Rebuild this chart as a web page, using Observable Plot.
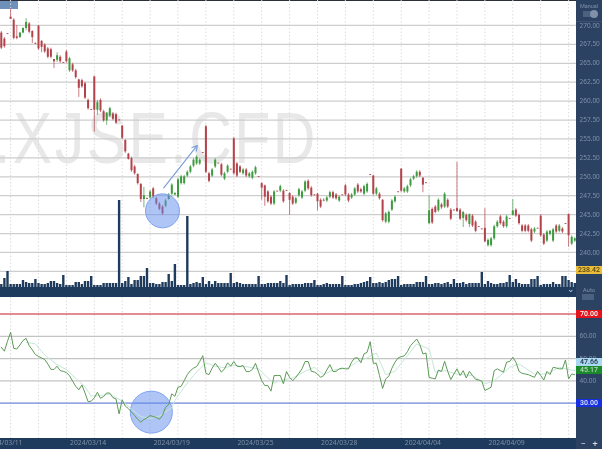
<!DOCTYPE html>
<html><head><meta charset="utf-8">
<script src="https://cdn.jsdelivr.net/npm/d3@7"></script>
<script src="https://cdn.jsdelivr.net/npm/@observablehq/plot@0.6"></script>
<style>
html,body{margin:0;padding:0;background:#fff;overflow:hidden}
#wrap{position:relative;width:602px;height:449px;overflow:hidden;font-family:Roboto,sans-serif;filter:blur(.45px)}
#wrap>div{position:absolute}
#wrap>div.pane{left:0}
.tag{font-size:7px;line-height:8px;height:8px;text-align:center;left:576px;width:26px;font-weight:500}
.faint{color:#7f90a8;font-size:6.5px;line-height:8px;text-align:center}
</style></head><body>
<div id="wrap"></div>
<script>
const highs=[269.2,268.4,268.9,272.2,270.9,270.0,269.1,269.7,270.9,270.4,269.3,267.7,270.0,268.0,267.6,267.1,267.0,265.5,266.4,266.0,265.1,266.7,265.8,265.0,264.2,262.9,262.9,262.5,260.3,258.9,263.3,260.1,260.3,258.8,258.5,259.2,258.5,258.4,257.5,256.8,254.9,253.1,252.6,251.5,250.4,249.1,248.6,247.2,248.2,248.6,247.3,246.6,246.2,247.0,247.8,249.1,247.9,249.8,250.2,250.2,250.8,251.5,252.4,252.8,252.4,253.2,256.8,250.6,251.1,252.4,251.8,251.8,250.6,251.6,251.0,255.2,251.9,251.5,251.1,251.1,250.6,250.8,251.4,250.0,249.2,248.9,248.2,247.5,248.2,248.1,248.9,248.3,248.2,247.9,247.5,247.3,248.5,248.2,249.5,249.6,248.7,247.6,247.8,247.1,247.1,247.4,248.1,248.1,247.8,247.5,247.6,249.0,247.8,247.8,248.6,249.1,248.5,248.9,249.2,250.3,250.2,248.6,247.9,247.0,245.3,245.5,247.0,247.5,248.0,251.1,248.6,248.9,249.8,250.2,250.8,250.8,249.9,249.2,247.5,245.9,246.2,247.1,246.5,247.9,247.1,245.8,245.6,251.9,245.8,245.4,245.1,245.1,245.0,244.2,243.4,243.1,245.8,241.8,242.0,243.6,244.2,244.9,244.2,244.9,244.5,247.0,245.8,245.1,243.7,243.7,243.7,243.2,243.3,243.2,245.0,242.5,242.9,242.9,243.2,243.7,243.7,243.3,243.8,245.1,242.2,242.0];
const lows=[266.8,267.0,268.8,270.8,268.1,268.1,268.3,268.9,269.3,268.9,267.6,267.5,266.7,266.4,266.3,265.6,265.6,264.3,265.1,265.0,265.0,265.0,263.8,263.8,262.9,260.5,261.7,260.2,258.8,258.8,255.9,258.1,258.5,257.2,256.8,257.8,257.4,256.9,257.4,254.9,253.1,252.2,250.6,250.2,248.9,246.6,245.9,247.0,247.0,247.1,246.2,245.5,244.9,245.9,246.9,247.5,247.5,247.1,248.9,248.9,249.9,250.4,251.2,251.5,251.5,253.1,250.4,249.2,249.9,251.1,251.7,250.0,249.5,250.4,250.9,250.2,249.9,250.4,250.2,249.9,249.8,249.6,250.2,249.9,246.9,246.1,246.5,246.2,246.2,248.0,247.9,246.5,248.1,244.9,246.2,246.3,247.3,247.0,247.9,248.2,247.3,247.5,245.5,245.8,246.7,246.6,247.1,247.0,246.9,246.6,247.5,247.4,246.6,247.0,247.4,247.8,247.8,247.5,247.8,250.2,247.5,247.5,246.9,244.0,243.8,243.8,245.4,246.5,247.9,247.9,247.8,247.8,248.6,249.5,249.8,249.9,247.9,249.1,243.7,243.7,245.1,245.3,245.7,245.8,245.8,244.2,245.5,245.3,244.2,243.3,244.0,243.3,243.3,242.6,243.3,243.0,241.3,240.7,240.7,241.6,243.2,243.6,243.2,243.2,244.4,244.8,244.6,243.6,242.6,242.6,242.6,241.3,242.5,243.1,242.0,240.9,241.3,242.2,241.3,242.5,242.6,242.5,243.7,240.7,240.9,241.3];
const opens=[269.0,268.2,268.9,271.1,270.7,268.5,268.4,269.0,269.6,270.2,269.2,267.6,269.9,267.9,267.4,266.9,266.8,265.5,265.4,265.8,265.1,266.5,264.0,264.8,264.0,262.8,262.7,262.3,260.1,258.9,263.2,258.8,260.1,258.6,257.4,258.0,258.3,258.2,257.5,256.7,254.8,253.0,252.4,251.3,250.3,249.0,247.0,247.1,247.2,248.4,247.1,246.4,246.0,246.1,247.0,247.7,247.6,247.3,249.1,249.1,250.1,250.6,251.4,251.7,251.7,253.2,256.6,250.4,250.1,251.3,251.8,251.6,249.7,250.6,251.0,255.0,251.7,251.3,250.4,250.9,250.0,249.8,250.4,250.0,249.1,248.8,248.0,247.3,246.4,248.1,248.1,248.1,248.2,247.8,247.3,246.5,247.5,247.2,248.1,249.4,248.5,247.6,247.7,246.9,246.9,246.8,247.3,247.9,247.6,246.8,247.6,248.8,247.6,247.2,247.6,248.9,248.3,247.7,248.0,250.3,250.1,247.7,247.7,246.9,244.0,244.0,245.6,246.7,248.0,251.0,248.0,248.0,248.8,249.7,250.0,250.6,249.8,249.2,243.8,245.7,246.0,245.5,246.3,246.0,246.9,245.6,245.6,245.8,245.6,244.5,244.9,243.7,244.8,244.0,243.4,243.1,243.2,240.9,240.9,241.8,243.4,244.7,244.0,243.4,244.5,244.9,245.6,244.9,243.5,243.5,243.5,243.0,242.7,243.2,244.8,242.3,241.5,242.4,241.5,243.5,242.8,243.1,243.8,245.0,241.1,241.5];
const closes=[267.0,267.2,268.8,270.8,268.3,268.3,269.0,269.6,270.4,269.1,268.4,267.5,266.9,267.1,266.5,265.8,265.8,265.2,266.0,265.2,265.0,265.2,265.6,264.0,263.1,261.7,261.9,260.4,259.0,258.8,258.8,259.8,258.7,257.4,258.4,259.0,257.6,257.1,257.4,255.1,253.3,252.3,250.8,250.4,249.1,247.0,247.5,247.0,248.0,247.3,246.4,245.7,245.1,246.8,247.6,248.9,247.8,249.6,250.0,250.0,250.6,251.3,252.2,252.6,252.2,253.1,250.6,249.4,250.9,252.2,251.7,250.2,250.4,251.4,250.9,250.4,250.1,250.6,250.9,250.1,250.4,250.6,251.2,249.9,248.5,247.3,246.7,246.4,248.0,248.0,248.7,246.7,248.1,246.9,246.4,247.1,248.3,248.0,249.3,248.4,247.5,247.5,246.7,246.0,246.8,247.2,247.9,247.2,247.1,247.3,247.5,247.6,246.8,247.6,248.4,248.0,248.0,248.7,249.0,250.2,247.7,248.4,247.1,244.2,245.1,245.3,246.8,247.3,247.9,248.1,248.4,248.7,249.6,250.0,250.6,250.1,248.9,249.1,245.5,243.9,245.3,246.9,245.9,247.7,246.0,244.4,245.5,245.4,244.4,245.3,244.2,245.0,243.5,242.8,243.3,243.0,241.4,241.6,241.8,243.4,244.0,243.8,243.4,244.7,244.4,245.5,244.8,243.8,242.8,242.8,242.8,241.5,243.1,243.1,242.2,241.1,242.7,242.8,243.0,242.7,243.5,242.7,243.7,242.2,242.0,241.8];
const volumes=[3,9,16,3,3,3,3,7,5,4,4,8,4,3,3,4,6,6,4,3,12,2,2,2,5,5,3,6,6,11,2,2,2,4,4,4,4,4,87,4,6,10,3,7,7,11,11,19,4,4,3,3,5,5,13,6,23,2,2,2,71,3,4,5,4,10,3,6,3,6,4,4,4,4,14,4,5,4,3,3,3,3,3,11,3,3,4,4,4,4,6,4,12,2,3,3,3,3,4,4,4,7,2,2,3,4,3,3,3,3,11,2,2,2,3,3,4,5,6,10,4,4,5,4,5,7,8,8,11,2,3,3,3,3,5,5,5,11,3,3,4,4,3,4,5,3,8,4,4,5,3,4,4,4,4,15,3,6,4,3,3,4,4,5,12,5,8,4,3,3,3,8,8,11,2,3,3,3,5,3,3,11,11,7,5,4];
const rsi=[55.1,53.3,57.8,61.8,54.6,54.3,56.1,58.1,59.1,55.8,53.9,51.8,51.0,50.3,49.6,47.6,45.2,45.1,46.6,44.6,44.3,43.7,42.4,39.9,37.6,36.0,38.2,34.6,30.7,30.9,32.4,34.9,32.2,33.0,34.6,34.5,32.5,31.9,25.2,31.5,28.7,27.6,26.0,24.5,22.8,21.5,22.7,23.4,24.5,24.0,23.6,22.8,24.5,28.2,29.4,34.2,33.1,37.2,37.5,40.1,42.8,44.6,45.7,46.4,48.7,51.3,43.4,42.8,45.7,47.9,46.1,43.9,45.4,48.1,46.6,48.7,46.6,46.4,46.9,44.2,44.2,45.1,47.9,43.9,40.1,37.9,37.9,35.4,42.4,42.4,42.4,38.7,44.2,41.6,40.1,41.6,43.4,45.4,48.7,48.7,44.3,44.0,43.1,41.6,42.4,44.9,47.3,44.2,44.3,45.4,45.7,45.4,45.4,48.4,50.3,50.3,48.1,52.1,52.8,57.6,47.9,47.9,42.4,36.6,40.9,42.1,45.7,48.4,50.3,50.9,51.2,53.1,55.8,57.3,58.8,56.3,52.1,52.5,41.6,41.2,40.9,44.9,44.2,48.8,44.3,40.6,43.1,45.4,42.4,44.6,41.3,44.3,42.4,40.7,40.4,39.9,35.7,36.4,37.2,44.6,45.4,44.6,43.9,48.4,48.7,50.6,48.4,44.3,43.4,43.1,42.8,42.2,41.6,44.3,42.4,40.4,44.3,42.8,46.1,45.8,45.4,45.4,49.4,40.9,43.1,42.8];
const signalIndex=[8,11,14,18,21,25,27,29,32,35,39,42,45,48,51,55,56,59,62,64,66,69,72,75,78,83,86,88,91,94,98,101,104,107,112,115,118,121,124,127,129,131,134,138,140,143,147,152,156,159,161,164,167,172,176,180,185];
const signalValues=[57.3,56.6,51.6,47.3,45.1,39.9,37.4,33.2,33.5,34.0,31.0,27.3,24.0,23.1,24.2,28.0,31.3,37.2,42.4,45.4,48.1,46.6,45.9,46.9,46.6,45.4,41.3,39.0,40.5,41.3,44.3,46.1,42.8,44.8,45.9,48.8,50.3,52.5,42.8,44.3,47.9,51.3,56.6,54.3,43.9,44.6,43.1,42.4,38.7,40.1,42.4,46.1,47.6,43.1,43.1,46.1,44.6];
const priceGrid=[270,267.5,265,262.5,260,257.5,255,252.5,250,247.5,245,242.5,240,237.5];
const priceTicks=[270,267.5,265,262.5,260,257.5,255,252.5,250,247.5,245,242.5,240];
const rsiGrid=[60,50,40];
const rsiUpper=70, rsiLower=30;
const dateIndex=[1,28,55,82,109,136,163];
const dateLabels=["2024/03/11","2024/03/14","2024/03/19","2024/03/25","2024/03/28","2024/04/04","2024/04/09"];
const gridIndex=[3,12,21,30,39,48,57,66,75,84,93,102,111,120,129,138,147,156,165,174,183];
const priceCircle=[{i:52,v:245.5}];
const rsiCircle=[{i:48.4,v:26}];
const arrowTrend=[{i1:52.4,v1:248.55,i2:63.2,v2:254.14}];

const RED="#b3434b",GREEN="#3d9a3f",NAVY="#1e3a5c",PANEL="#2b4263";
const candles=highs.map((h,i)=>({i,h,l:lows[i],o:opens[i],c:closes[i],up:closes[i]>=opens[i]}));
const vols=volumes.map((v,i)=>({i,v}));
const rsiData=rsi.map((v,i)=>({i,v}));
const sigData=signalIndex.map((i,k)=>({i,v:signalValues[k]}));
const xDomain=[-0.258,185.55];
const wrap=document.getElementById("wrap");
function box(l,t,w,h,bg){const d=document.createElement("div");d.style.cssText=`left:${l}px;top:${t}px;width:${w}px;height:${h}px;background:${bg}`;wrap.appendChild(d);return d;}
function label(txt,t,cls,extra){const d=document.createElement("div");d.className=cls;d.textContent=txt;d.style.cssText=`top:${t}px;${extra||""}`;wrap.appendChild(d);return d;}

// watermark under everything
label(".XJSE.CFD",97,"", "left:-6px;font:72px 'Liberation Sans',sans-serif;letter-spacing:3px;color:#e8e8e8;white-space:nowrap;transform:scaleX(.82);transform-origin:0 0");

const common={width:602,marginLeft:0,marginRight:26,marginTop:0,style:{background:"transparent",overflow:"hidden"}};
const pricePlot=Plot.plot({...common,height:297,marginBottom:10,
  x:{domain:xDomain,axis:null},
  y:{domain:[235.37,273.3]},
  marks:[
    Plot.ruleX(gridIndex,{stroke:"#dcdcdc",strokeDasharray:"1.5,2"}),
    Plot.ruleY(priceGrid,{stroke:"#cdcdcd",strokeWidth:1.3}),
    Plot.axisY({anchor:"right",ticks:priceTicks,tickSize:0,tickPadding:3,label:null,tickFormat:d3.format(".2f"),fontSize:6.5,fill:"#7f90a8"}),
    Plot.ruleX(candles,{x:"i",y1:"l",y2:"h",strokeWidth:1,stroke:d=>d.up?GREEN:RED,strokeOpacity:.7}),
    Plot.ruleX(candles,{x:"i",y1:"o",y2:"c",strokeWidth:2,stroke:d=>d.up?GREEN:RED}),
    Plot.dot(priceCircle,{x:"i",y:"v",r:17,fill:"#5f8cec",fillOpacity:.5,stroke:"#7fa2ee",strokeWidth:1}),
    Plot.arrow(arrowTrend,{x1:"i1",y1:"v1",x2:"i2",y2:"v2",stroke:"#7d9fd8",strokeWidth:1.2,headLength:7,bend:0})
  ]});
pricePlot.style.position="absolute";

const volPlot=Plot.plot({...common,height:297,marginBottom:10,
  x:{domain:xDomain,axis:null},
  y:{domain:[0,287],axis:null},
  marks:[Plot.ruleX(vols,{x:"i",y1:0,y2:"v",strokeWidth:2.4,stroke:NAVY})]});
volPlot.style.position="absolute";

const rsiPlot=Plot.plot({...common,height:152,marginBottom:11,
  x:{domain:xDomain,axis:null},
  y:{domain:[14.17,77.4]},
  marks:[
    Plot.ruleX(gridIndex,{stroke:"#dcdcdc",strokeDasharray:"1.5,2"}),
    Plot.ruleY(rsiGrid,{stroke:"#c4c4c4",strokeWidth:1.3}),
    Plot.ruleY([rsiUpper],{stroke:"#d9656c",strokeWidth:1.3}),
    Plot.ruleY([rsiLower],{stroke:"#6f86d8",strokeWidth:1.3}),
    Plot.axisY({anchor:"right",ticks:rsiGrid,tickSize:0,tickPadding:3,label:null,tickFormat:d3.format(".2f"),fontSize:6.5,fill:"#7f90a8"}),
    Plot.axisX({anchor:"bottom",ticks:dateIndex,tickSize:0,tickPadding:2,label:null,fontSize:6.8,fill:"#7f90a8",tickFormat:d=>dateLabels[dateIndex.indexOf(d)]}),
    Plot.dot(rsiCircle,{x:"i",y:"v",r:21,fill:"#5f8cec",fillOpacity:.5,stroke:"#7fa2ee",strokeWidth:1}),
    Plot.line(sigData,{x:"i",y:"v",stroke:"#c6e6da",strokeWidth:1}),
    Plot.line(rsiData,{x:"i",y:"v",stroke:"#5d9a55",strokeWidth:1})
  ]});
rsiPlot.style.position="absolute";

// chrome behind the axes
box(576,0,26,449,PANEL);
box(0,287,576,10,NAVY);
box(0,438,576,11,NAVY);
box(0,0,576,1,"#2a2f3a");
box(0,1,18,8,"#6f90b8");
[[pricePlot,0],[volPlot,0],[rsiPlot,297]].forEach(([p,t])=>{const d=document.createElement("div");d.className="pane";d.style.top=t+"px";d.style.width="602px";d.appendChild(p);wrap.appendChild(d);});

label("Manual",2,"faint","left:576px;width:26px;font-size:5.5px");
box(583,11,12,6,"#4b6180");
box(590,10,8,8,"#7f90a8").style.borderRadius="50%";
box(576,21,26,1,"#3c5272");
label("238.42",266,"tag","background:#e9bd3a;color:#5a4510");
label("Auto",286,"faint","left:576px;width:26px;font-size:6px");
box(582,294,12,6,"#4b6180");
label("⌄",285,"faint","left:566px;width:10px;font-size:9px;color:#c9d3df");
label("70.00",309.5,"tag","background:#e3141c;color:#fff");
label("47.66",358,"tag","background:#a9d8f0;color:#20344d");
label("45.17",366,"tag","background:#1a8a2a;color:#bcd8bf");
label("30.00",398.5,"tag","background:#1630e0;color:#dfe5ff");
label("−",439.5,"faint","left:578px;width:10px;font-size:9px;color:#d9e0ea");
label("+",439.5,"faint","left:590px;width:10px;font-size:9px;color:#d9e0ea");
</script>
</body></html>
